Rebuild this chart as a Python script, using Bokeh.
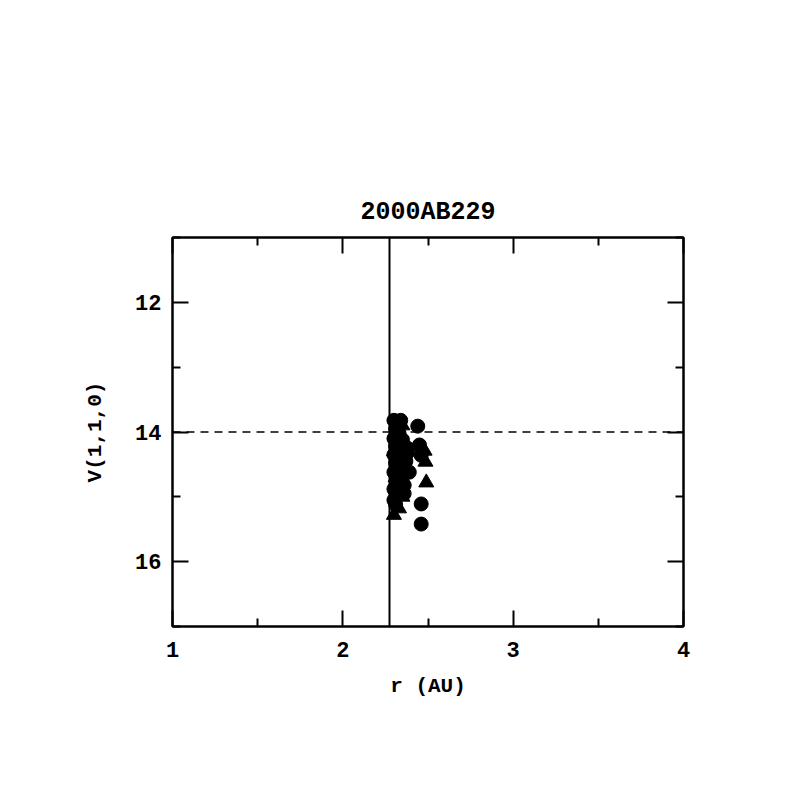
from bokeh.plotting import figure
from bokeh.models import Range1d, FixedTicker, LinearAxis, Span
from bokeh.embed import file_html
from bokeh.resources import INLINE

# ---- data ----
title_text = "2000AB229"
x_label = "r (AU)"
y_label = "V(1,1,0)"
x_ticks = [1, 2, 3, 4]
x_minor = [1.5, 2.5, 3.5]
y_ticks = [12, 14, 16]
y_minor = [11, 13, 15, 17]
r_ref = 2.274
v_ref = 14.0

circ_r = [2.30, 2.34, 2.31, 2.33, 2.30, 2.35, 2.31, 2.34, 2.30, 2.36, 2.31, 2.34,
          2.30, 2.35, 2.32, 2.36, 2.30, 2.33, 2.30, 2.31, 2.44, 2.45, 2.46, 2.46, 2.46,
          2.38, 2.37, 2.39, 2.38, 2.36]
circ_v = [13.82, 13.82, 13.95, 14.02, 14.10, 14.12, 14.22, 14.28, 14.35, 14.40, 14.48, 14.55,
          14.62, 14.68, 14.75, 14.82, 14.88, 14.95, 15.05, 15.12, 13.91, 14.20, 14.36, 15.11, 15.42,
          14.25, 14.45, 14.62, 14.32, 14.95]
tri_r = [2.35, 2.32, 2.37, 2.30, 2.36, 2.31, 2.37, 2.32, 2.35, 2.30, 2.48, 2.485, 2.49, 2.33]
tri_v = [13.90, 14.05, 14.20, 14.30, 14.50, 14.70, 14.60, 14.90, 15.00, 15.28, 14.29, 14.46, 14.78, 15.18]

FONT = "Liberation Mono"

p = figure(width=780, height=780, output_backend="svg", toolbar_location=None,
           x_range=Range1d(1, 4), y_range=Range1d(17, 11),
           x_axis_location=None, y_axis_location=None,
           min_border_left=172, min_border_right=97,
           min_border_top=237, min_border_bottom=154)
p.grid.visible = False
p.background_fill_color = "white"
p.border_fill_color = "white"
p.outline_line_color = "black"
p.outline_line_width = 2

p.title.text = title_text
p.title.align = "center"
p.title.text_font = FONT
p.title.text_font_style = "bold"
p.title.text_font_size = "25px"
p.title.text_color = "black"
p.title.standoff = 22


def style_axis(ax, labels=True):
    ax.axis_line_color = "black"
    ax.axis_line_width = 2
    ax.major_tick_in = 16
    ax.major_tick_out = 0
    ax.minor_tick_in = 8
    ax.minor_tick_out = 0
    ax.major_tick_line_width = 2
    ax.minor_tick_line_width = 2
    ax.major_tick_line_color = "black"
    ax.minor_tick_line_color = "black"
    ax.major_label_text_font = FONT
    ax.major_label_text_font_style = "bold"
    ax.major_label_text_font_size = "22px"
    ax.major_label_text_color = "black" if labels else None
    ax.axis_label_text_font = FONT
    ax.axis_label_text_font_style = "bold"
    ax.axis_label_text_font_size = "21px"
    ax.axis_label_text_color = "black"


xb = LinearAxis(ticker=FixedTicker(ticks=x_ticks, minor_ticks=x_minor), axis_label=x_label)
style_axis(xb)
xb.major_label_standoff = 15
xb.axis_label_standoff = 15
p.add_layout(xb, "below")

xt = LinearAxis(ticker=FixedTicker(ticks=x_ticks, minor_ticks=x_minor))
style_axis(xt, labels=False)
xt.major_label_standoff = 0
p.add_layout(xt, "above")

yl = LinearAxis(ticker=FixedTicker(ticks=y_ticks, minor_ticks=y_minor), axis_label=y_label)
style_axis(yl)
yl.major_label_standoff = 11
yl.axis_label_standoff = 25
yl.major_label_orientation = "horizontal"
p.add_layout(yl, "left")

yr = LinearAxis(ticker=FixedTicker(ticks=y_ticks, minor_ticks=y_minor))
style_axis(yr, labels=False)
yr.major_label_standoff = 0
p.add_layout(yr, "right")

p.add_layout(Span(location=r_ref, dimension="height", line_color="black", line_width=2))
p.add_layout(Span(location=v_ref, dimension="width", line_color="black", line_width=1.5,
                  line_dash="8 6"))

p.scatter(circ_r, circ_v, marker="circle", size=14, fill_color="black", line_color="black")
p.scatter(tri_r, tri_v, marker="triangle", size=15, fill_color="black", line_color="black")

open("out.html", "w").write(file_html(p, INLINE))
